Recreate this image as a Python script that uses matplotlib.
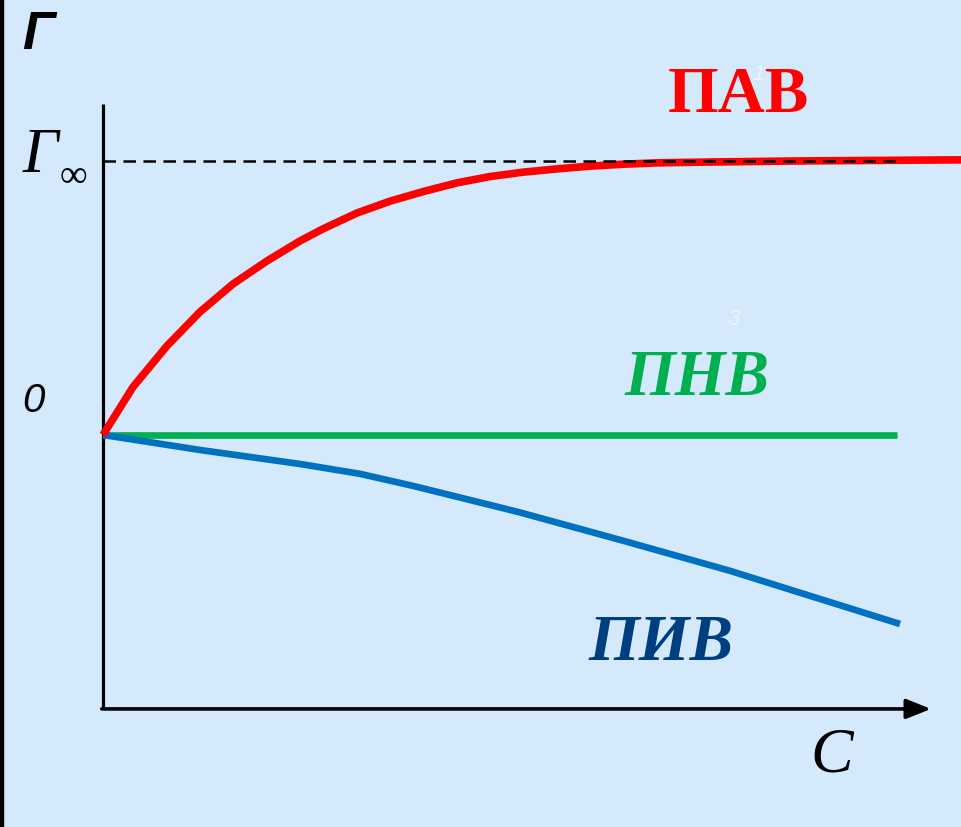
import matplotlib
matplotlib.use("Agg")
import matplotlib.pyplot as plt
from matplotlib.patches import Rectangle

# ---- data (C in arbitrary units, Γ normalised so that Γ∞ = 1) ----
C_pav = [0, 0.30, 0.64, 0.97, 1.30, 1.64, 1.97, 2.20, 2.54, 2.87, 3.20, 3.54, 3.87, 4.20, 4.54,
         4.87, 5.20, 5.54, 6.07, 6.97, 8.58]
G_pav = [0, 0.175, 0.325, 0.449, 0.551, 0.635, 0.708, 0.752, 0.810, 0.853, 0.888, 0.920, 0.943,
         0.959, 0.971, 0.981, 0.988, 0.993, 0.996, 1.0, 1.004]

C_pnv = [0, 7.94]
G_pnv = [0, 0]

C_piv = [0, 0.97, 1.97, 2.57, 3.10, 4.15, 5.21, 6.27, 7.33, 7.97]
G_piv = [0, -0.055, -0.106, -0.142, -0.186, -0.281, -0.387, -0.496, -0.617, -0.690]

G_inf = 1.0
C_dash_end = 7.94
axis_y = -1.0
yaxis_top = 1.208
arrow_tip = 8.28

labels = {"pav": "ПАВ", "pnv": "ПНВ", "piv": "ПИВ"}

W, H = 961, 828
bg = "#d4e9fb"
fig = plt.figure(figsize=(W / 100, H / 100), dpi=100, facecolor=bg)
ax = fig.add_axes([0, 0, 1, 1])
ax.set_facecolor(bg)
ax.set_xlim(-1.03, 8.58)
ax.set_ylim(-1.431, 1.591)
ax.axis("off")

# left black strip
fig.patches.append(Rectangle((0, 0), 3 / W, 1, transform=fig.transFigure, color="black", zorder=0))

# axes
ax.plot([0, 0], [axis_y, yaxis_top], color="black", lw=2.3, solid_capstyle="butt", zorder=2)
ax.annotate("", xy=(arrow_tip, axis_y), xytext=(-0.012, axis_y),
            arrowprops=dict(arrowstyle="-|>,head_length=0.75,head_width=0.3", lw=2.6, color="black",
                            shrinkA=0, shrinkB=0, mutation_scale=20), zorder=2)

# curves
ax.plot(C_pnv, G_pnv, color="#00b050", lw=4.8, solid_capstyle="butt", zorder=3)
ax.plot(C_piv, G_piv, color="#0070c0", lw=4.8, solid_capstyle="butt", solid_joinstyle="round", zorder=3)
ax.plot(C_pav, G_pav, color="#ff0000", lw=5.5, solid_capstyle="butt", solid_joinstyle="round", zorder=4)
ax.plot([0, C_dash_end], [G_inf, G_inf], color="black", lw=1.8, dashes=(5, 3), zorder=5)

def ftext(px, py, s, **kw):
    fig.text(px / W, 1 - py / H, s, **kw)

# axis labels
ftext(22, 49, "Г", family=["Liberation Sans", "DejaVu Sans"], style="italic", weight="bold", fontsize=38, va="baseline")
ftext(23, 172, "Г", family=["Liberation Serif", "DejaVu Serif"], style="italic", fontsize=45, va="baseline")
ftext(60, 187, "∞", family=["Liberation Serif", "DejaVu Serif"], fontsize=28, va="baseline")
ftext(22, 412, "0", family=["Liberation Sans", "DejaVu Sans"], style="italic", fontsize=29, va="baseline")
ftext(810, 772, "C", family=["Liberation Serif", "DejaVu Serif"], style="italic", fontsize=46, va="baseline")

# curve labels
ftext(668, 112, labels["pav"], family=["Liberation Serif", "DejaVu Serif"], weight="bold", fontsize=47, color="#ff0000", va="baseline")
ftext(624, 395, labels["pnv"], family=["Liberation Serif", "DejaVu Serif"], weight="bold", style="italic", fontsize=47, color="#00b050", va="baseline")
ftext(588, 660, labels["piv"], family=["Liberation Serif", "DejaVu Serif"], weight="bold", style="italic", fontsize=47, color="#003f7f", va="baseline")

# faint numbers
ftext(752, 80, "1", family=["Liberation Sans", "DejaVu Sans"], style="italic", fontsize=16, color="white", alpha=0.6, va="baseline")
ftext(727, 325, "3", family=["Liberation Sans", "DejaVu Sans"], style="italic", fontsize=16, color="white", alpha=0.6, va="baseline")

fig.savefig("out.png", dpi=100, facecolor=bg)
